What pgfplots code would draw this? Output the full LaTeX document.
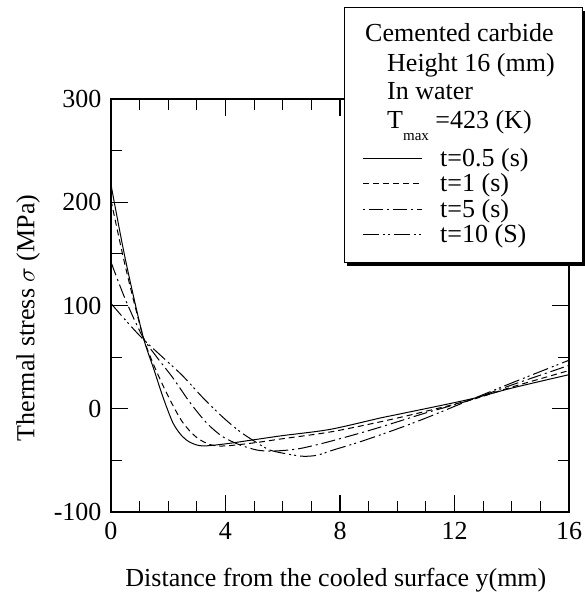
\documentclass[border=0pt]{standalone}
\usepackage{fontspec}
\setmainfont{Liberation Serif}
\usepackage{pgfplots}
\pgfplotsset{compat=1.18}
\begin{document}
\begin{tikzpicture}[font=\fontsize{26}{30}\selectfont]
\useasboundingbox (-111pt,-82pt) rectangle (474pt,512pt);
\begin{axis}[
  at={(0pt,0pt)}, anchor=south west,
  scale only axis, width=458pt, height=413pt,
  xmin=0, xmax=16, ymin=-100, ymax=300,
  xtick={0,4,8,12,16}, ytick={-100,0,100,200,300},
  minor x tick num=3, minor y tick num=1,
  tick align=inside, major tick length=17pt, minor tick length=11pt,
  axis line style={line width=1.2pt},
  every tick/.style={black, line width=1.2pt},
  /pgf/number format/assume math mode=true,
  xticklabel style={yshift=-7pt},
  yticklabel style={xshift=-6pt},
  xlabel={Distance from the cooled surface y(mm)},
  xlabel style={at={(axis description cs:0.491,-0.165)}, anchor=center},
  ylabel={Thermal stress $\sigma$ (MPa)},
  ylabel style={at={(axis description cs:-0.181,0.47)}, anchor=center},
]
\addplot[black, no marks, smooth, line width=1pt] coordinates {(0,217) (0.5,145) (1.1,72) (1.5,38) (1.82,11) (2.17,-14) (2.5,-27) (2.8,-33) (3.2,-36) (4,-34) (5,-30) (6,-26) (7.65,-20) (9.4,-9) (10.1,-5) (12.5,9) (14,20) (16,33)};
\addplot[black, no marks, smooth, line width=1pt, dash pattern=on 6pt off 4pt] coordinates {(0,202) (0.5,138) (1.1,72) (1.5,42) (2,12) (2.5,-13) (3,-28) (3.5,-35) (4,-36) (5,-33) (6,-29) (7.76,-22) (10,-9) (12.5,8) (14,21) (16,37)};
\addplot[black, no marks, smooth, line width=1pt, dash pattern=on 14pt off 4pt on 2pt off 4pt] coordinates {(0,142) (0.5,106) (1.1,70) (1.6,50) (2.16,30) (2.76,6) (3.35,-14) (3.9,-27) (4.5,-35) (5.1,-40) (5.6,-41) (6.2,-40) (6.7,-38) (7.6,-32) (8.9,-22) (9.85,-14) (11,-4) (12.5,8) (14,23) (16,42)};
\addplot[black, no marks, smooth, line width=1pt, dash pattern=on 16pt off 4pt on 2pt off 3pt on 2pt off 4pt] coordinates {(0,102) (0.5,86) (1.1,68) (1.8,50) (2.5,32) (3.2,11) (3.9,-8) (4.5,-22) (5.1,-33) (5.55,-40) (6.1,-43.5) (6.7,-46) (7.2,-45) (7.76,-40) (8.7,-32) (9.85,-21) (11,-9) (12.5,8) (14,25) (16,47)};
\end{axis}
% legend box
\fill[black] (236pt,246pt) rectangle (474pt,501pt);
\filldraw[fill=white, draw=black, line width=1pt] (233pt,249pt) rectangle (471pt,504pt);
\node[anchor=base west, inner sep=0pt] at (254pt,470pt) {Cemented carbide};
\node[anchor=base west, inner sep=0pt] at (276pt,440pt) {Height 16 (mm)};
\node[anchor=base west, inner sep=0pt] at (276pt,412pt) {In water};
\node[anchor=base west, inner sep=0pt] at (276pt,383pt) {T\raisebox{-0.45em}{\fontsize{15}{15}\selectfont max} =423 (K)};
\node[anchor=base west, inner sep=0pt] at (329pt,345pt) {t=0.5 (s)};
\node[anchor=base west, inner sep=0pt] at (329pt,320pt) {t=1 (s)};
\node[anchor=base west, inner sep=0pt] at (329pt,294pt) {t=5 (s)};
\node[anchor=base west, inner sep=0pt] at (329pt,269pt) {t=10 (S)};
\draw[line width=1pt] (252pt,353pt) -- (311pt,353pt);
\draw[line width=1pt, dash pattern=on 6pt off 4pt] (252pt,328pt) -- (311pt,328pt);
\draw[line width=1pt, dash pattern=on 2pt off 4pt on 14pt off 4pt] (252pt,302pt) -- (311pt,302pt);
\draw[line width=1pt, dash pattern=on 16pt off 4pt on 2pt off 3pt on 2pt off 4pt] (252pt,277pt) -- (311pt,277pt);
\end{tikzpicture}
\end{document}
